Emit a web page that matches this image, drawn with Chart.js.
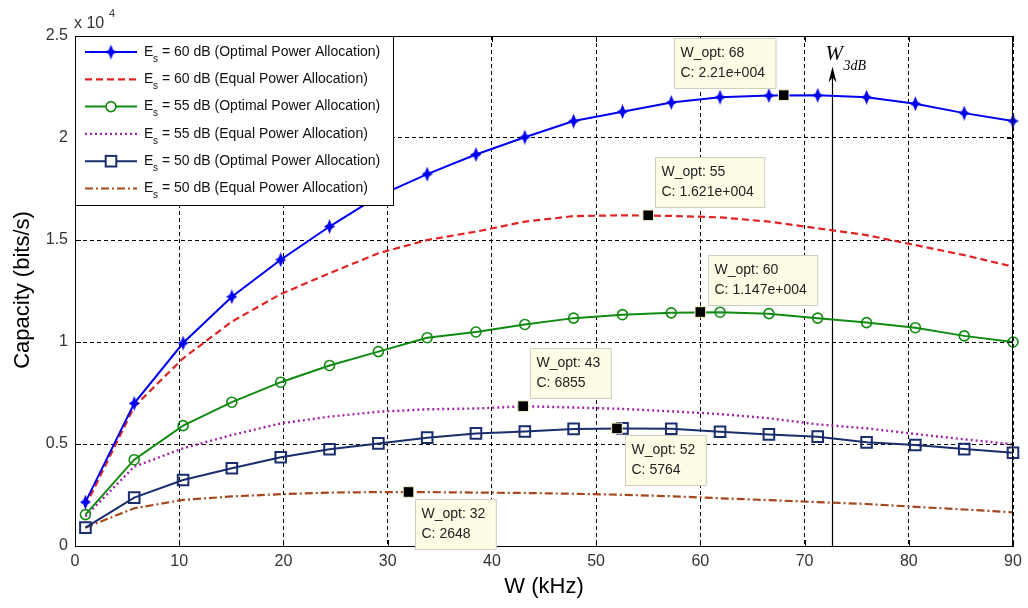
<!DOCTYPE html>
<html>
<head>
<meta charset="utf-8">
<script src="https://cdn.jsdelivr.net/npm/chart.js@4.4.0/dist/chart.umd.min.js"></script>
<style>
  html, body { margin: 0; padding: 0; background: #fff; }
  #chart { display: block; }
</style>
</head>
<body>
<canvas id="chart" width="1028" height="608"></canvas>
<script>
const W = [1, 5.68, 10.37, 15.05, 19.74, 24.42, 29.11, 33.79, 38.47, 43.16,
           47.84, 52.53, 57.21, 61.89, 66.58, 71.26, 75.95, 80.63, 85.32, 90];

// capacity (bits/s)
const cap60opt = [2150, 6990, 9950, 12220, 14030, 15660, 17150, 18230, 19190, 20040,
                  20830, 21290, 21740, 22000, 22080, 22090, 22000, 21680, 21220, 20830];
const cap60eq  = [1950, 6830, 9200, 11000, 12350, 13370, 14350, 15000, 15410, 15900,
                  16170, 16210, 16180, 16110, 15900, 15570, 15240, 14750, 14260, 13690];
const cap55opt = [1540, 4230, 5900, 7050, 8030, 8850, 9530, 10210, 10490, 10860,
                  11170, 11340, 11430, 11460, 11390, 11170, 10950, 10700, 10300, 10000];
const cap55eq  = [1450, 3890, 4790, 5440, 6010, 6340, 6580, 6700, 6740, 6850,
                  6790, 6720, 6600, 6470, 6260, 5960, 5770, 5490, 5230, 4990];
const cap50opt = [900, 2370, 3235, 3810, 4350, 4740, 5030, 5310, 5520, 5610,
                  5740, 5764, 5750, 5600, 5470, 5360, 5080, 4950, 4750, 4570];
const cap50eq  = [900, 1850, 2260, 2430, 2540, 2620, 2640, 2640, 2620, 2600,
                  2560, 2510, 2440, 2340, 2250, 2150, 2060, 1920, 1790, 1650];

const seriesNames = [
    '= 60 dB (Optimal Power Allocation)',
    '= 60 dB (Equal Power Allocation)',
    '= 55 dB (Optimal Power Allocation)',
    '= 55 dB (Equal Power Allocation)',
    '= 50 dB (Optimal Power Allocation)',
    '= 50 dB (Equal Power Allocation)'
];

// data tips
const tipW = [68, 55, 60, 43, 52, 32];
const tipC = [22100, 16210, 11470, 6855, 5764, 2648];
const tipCText = ['2.21e+004', '1.621e+004', '1.147e+004', '6855', '5764', '2648'];

// 3 dB bandwidth marker
const W3DB = 72.66;
const W3DB_TOP = 23500;

// where each tip box sits relative to its square (px)
const tipBoxOffset = [[-110, -57], [7, -58], [8, -57], [7, -58], [8, 7], [6, 7]];

const FONT = '"Liberation Sans", Arial, sans-serif';

function pts(vals) {
    return W.map((w, i) => ({x: w, y: vals[i]}));
}

function starMarker(color) {
    const c = document.createElement('canvas');
    c.width = 11; c.height = 15;
    const g = c.getContext('2d');
    g.fillStyle = color;
    g.beginPath();
    g.moveTo(5.5, 0); g.lineTo(7.6, 5.2); g.lineTo(11, 7.5); g.lineTo(7.6, 9.8);
    g.lineTo(5.5, 15); g.lineTo(3.4, 9.8); g.lineTo(0, 7.5); g.lineTo(3.4, 5.2);
    g.closePath();
    g.fill();
    return c;
}

const blueStar = starMarker('#0000f0');

const datasets = [
    {data: tipW.map((w, i) => ({x: w, y: tipC[i]})), showLine: false, pointStyle: 'rect',
     pointRadius: 7.5, backgroundColor: '#000', borderColor: '#f4f0c8', borderWidth: 1, order: -1},
    {label: seriesNames[0], data: pts(cap60opt), borderColor: '#0000f0', borderWidth: 2,
     pointStyle: blueStar, pointRadius: 6},
    {label: seriesNames[1], data: pts(cap60eq), borderColor: '#e02424', borderWidth: 2.2,
     borderDash: [7, 4], pointRadius: 0},
    {label: seriesNames[2], data: pts(cap55opt), borderColor: '#118a11', borderWidth: 2,
     pointStyle: 'circle', pointRadius: 5, pointBorderWidth: 1.6, pointBackgroundColor: 'rgba(0,0,0,0)'},
    {label: seriesNames[3], data: pts(cap55eq), borderColor: '#a424a8', borderWidth: 2.4,
     borderDash: [2, 3], pointRadius: 0},
    {label: seriesNames[4], data: pts(cap50opt), borderColor: '#1a2d6c', borderWidth: 2,
     pointStyle: 'rect', pointRadius: 7.5, pointBorderWidth: 2, pointBackgroundColor: 'rgba(0,0,0,0)'},
    {label: seriesNames[5], data: pts(cap50eq), borderColor: '#a2481c', borderWidth: 2.2,
     borderDash: [8, 3, 2, 3], pointRadius: 0}
];

datasets.forEach(d => {
    d.fill = false;
    d.tension = 0;
    d.clip = false;
    d.pointBorderColor = d.pointBorderColor || d.borderColor;
});

const overlay = {
    id: 'overlay',
    beforeDatasetsDraw(chart) {
        const {ctx, scales: {x, y}} = chart;
        const px = Math.round(x.getPixelForValue(W3DB)) + 0.5;
        const top = y.getPixelForValue(W3DB_TOP);
        ctx.save();
        ctx.strokeStyle = '#000';
        ctx.lineWidth = 1.2;
        ctx.beginPath();
        ctx.moveTo(px, y.getPixelForValue(0));
        ctx.lineTo(px, top + 6);
        ctx.stroke();
        ctx.fillStyle = '#000';
        ctx.beginPath();
        ctx.moveTo(px, top);
        ctx.lineTo(px + 4, top + 16);
        ctx.lineTo(px, top + 11);
        ctx.lineTo(px - 4, top + 16);
        ctx.closePath();
        ctx.fill();
        ctx.font = 'italic 21px "Liberation Serif", "Times New Roman", serif';
        ctx.textBaseline = 'alphabetic';
        ctx.textAlign = 'left';
        ctx.fillText('W', px - 7, top - 7);
        ctx.font = 'italic 14px "Liberation Serif", "Times New Roman", serif';
        ctx.fillText('3dB', px + 11, top + 3);
        ctx.restore();
    },
    afterDraw(chart) {
        const {ctx, chartArea: a, scales: {x, y}} = chart;
        ctx.save();

        // frame + inward ticks
        ctx.strokeStyle = '#000';
        ctx.lineWidth = 1;
        ctx.setLineDash([]);
        ctx.strokeRect(a.left + 0.5, a.top + 0.5, a.right - a.left - 1, a.bottom - a.top);
        ctx.beginPath();
        x.ticks.forEach(t => {
            const p = Math.round(x.getPixelForValue(t.value)) + 0.5;
            ctx.moveTo(p, a.bottom); ctx.lineTo(p, a.bottom - 6);
            ctx.moveTo(p, a.top); ctx.lineTo(p, a.top + 6);
        });
        y.ticks.forEach(t => {
            const p = Math.round(y.getPixelForValue(t.value)) + 0.5;
            ctx.moveTo(a.left, p); ctx.lineTo(a.left + 6, p);
            ctx.moveTo(a.right, p); ctx.lineTo(a.right - 6, p);
        });
        ctx.stroke();

        // axis titles and exponent
        ctx.fillStyle = '#000';
        ctx.font = '22px ' + FONT;
        ctx.textAlign = 'center';
        ctx.textBaseline = 'middle';
        ctx.fillText('W (kHz)', (a.left + a.right) / 2, 587);
        ctx.save();
        ctx.translate(23, 290);
        ctx.rotate(-Math.PI / 2);
        ctx.fillText('Capacity (bits/s)', 0, 0);
        ctx.restore();
        ctx.fillStyle = '#333';
        ctx.textAlign = 'left';
        ctx.font = '16px ' + FONT;
        ctx.fillText('x 10', 74, 24);
        ctx.font = '11px ' + FONT;
        ctx.fillText('4', 109, 14);

        // data tip boxes
        ctx.font = '14px ' + FONT;
        ctx.textBaseline = 'middle';
        tipW.forEach((w, i) => {
            const sx = x.getPixelForValue(w), sy = y.getPixelForValue(tipC[i]);
            const l1 = 'W_opt: ' + w, l2 = 'C: ' + tipCText[i];
            const bw = Math.max(ctx.measureText(l1).width, ctx.measureText(l2).width) + 17;
            const bx = Math.round(sx + tipBoxOffset[i][0]) + 0.5;
            const by = Math.round(sy + tipBoxOffset[i][1]) + 0.5;
            const bxx = tipBoxOffset[i][0] < 0 ? Math.round(sx + tipBoxOffset[i][0] + 102 - bw) + 0.5 : bx;
            ctx.fillStyle = '#fdfde6';
            ctx.strokeStyle = '#cfcfbf';
            ctx.fillRect(bxx, by, bw, 50);
            ctx.strokeRect(bxx, by, bw, 50);
            ctx.fillStyle = '#222';
            ctx.fillText(l1, bxx + 6, by + 15);
            ctx.fillText(l2, bxx + 6, by + 35);
        });

        // legend
        const lx = a.left + 0.5, ly = a.top + 0.5, lw = 318, lh = 169;
        ctx.fillStyle = '#fff';
        ctx.fillRect(lx, ly, lw, lh);
        ctx.strokeStyle = '#000';
        ctx.lineWidth = 1;
        ctx.strokeRect(lx, ly, lw, lh);
        chart.data.datasets.slice(1).forEach((d, i) => {
            const cy = a.top + 16 + i * 27.3;
            ctx.save();
            ctx.strokeStyle = d.borderColor;
            ctx.lineWidth = d.borderWidth;
            ctx.setLineDash(d.borderDash || []);
            ctx.beginPath();
            ctx.moveTo(a.left + 10, cy);
            ctx.lineTo(a.left + 62, cy);
            ctx.stroke();
            ctx.setLineDash([]);
            const mx = a.left + 36;
            if (d.pointStyle === 'circle' && d.pointRadius) {
                ctx.fillStyle = '#fff';
                ctx.lineWidth = d.pointBorderWidth;
                ctx.beginPath(); ctx.arc(mx, cy, d.pointRadius, 0, Math.PI * 2); ctx.fill(); ctx.stroke();
            } else if (d.pointStyle === 'rect' && d.pointRadius) {
                const s = d.pointRadius * Math.SQRT1_2;
                ctx.fillStyle = '#fff';
                ctx.lineWidth = d.pointBorderWidth;
                ctx.fillRect(mx - s, cy - s, 2 * s, 2 * s);
                ctx.strokeRect(mx - s, cy - s, 2 * s, 2 * s);
            } else if (d.pointRadius) {
                ctx.drawImage(d.pointStyle, mx - d.pointStyle.width / 2, cy - d.pointStyle.height / 2);
            }
            ctx.restore();
            ctx.fillStyle = '#111';
            ctx.font = '14px ' + FONT;
            ctx.textBaseline = 'middle';
            ctx.fillText('E', a.left + 69, cy);
            ctx.font = '10px ' + FONT;
            ctx.fillText('s', a.left + 78, cy + 7);
            ctx.font = '14px ' + FONT;
            ctx.fillText(d.label, a.left + 87, cy);
        });

        ctx.restore();
    }
};

new Chart('chart', {
    type: 'line',
    data: {datasets: datasets},
    options: {
        responsive: false,
        animation: false,
        layout: {padding: {top: 36, right: 15, left: 0, bottom: 0}},
        plugins: {legend: {display: false}, tooltip: {enabled: false}},
        scales: {
            x: {
                type: 'linear', min: 0, max: 90,
                afterFit: s => { s.height = 62; },
                grid: {color: '#000', lineWidth: 1, drawTicks: false},
                border: {dash: [4, 3], color: '#000'},
                ticks: {stepSize: 10, padding: 6, color: '#333', font: {size: 16, family: FONT}, maxRotation: 0}
            },
            y: {
                min: 0, max: 25000,
                afterFit: s => { s.width = 75; },
                grid: {color: '#000', lineWidth: 1, drawTicks: false},
                border: {dash: [4, 3], color: '#000'},
                ticks: {stepSize: 5000, padding: 7, color: '#333', font: {size: 16, family: FONT},
                        callback: v => String(v / 10000)}
            }
        }
    },
    plugins: [overlay]
});
</script>
</body>
</html>
